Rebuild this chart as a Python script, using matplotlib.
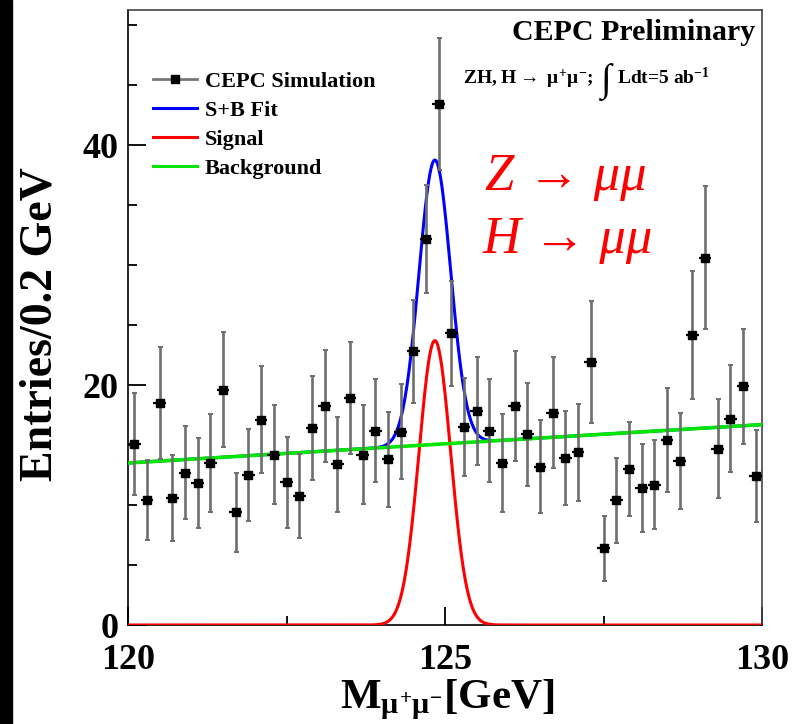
import numpy as np
import matplotlib.pyplot as plt
from matplotlib.lines import Line2D
from matplotlib.patches import Rectangle

plt.rcParams["font.family"] = "Liberation Serif"
plt.rcParams["font.weight"] = "bold"
plt.rcParams["axes.labelweight"] = "bold"
plt.rcParams["mathtext.fontset"] = "custom"
plt.rcParams["mathtext.rm"] = "Liberation Serif:bold"
plt.rcParams["mathtext.it"] = "Liberation Serif:bold"
plt.rcParams["mathtext.bf"] = "Liberation Serif:bold"

# CEPC simulation, 0.2 GeV bins from 120 to 130 GeV
entries = [15.1, 10.4, 18.5, 10.6, 12.7, 11.8, 13.5, 19.6, 9.4, 12.5,
           17.1, 14.2, 11.9, 10.75, 16.4, 18.25, 13.4, 18.9, 14.2, 16.2,
           13.8, 16.1, 22.8, 32.2, 43.4, 24.3, 16.5, 17.8, 16.2, 13.5,
           18.25, 15.9, 13.2, 17.7, 13.9, 14.4, 21.9, 6.4, 10.4, 13.0,
           11.4, 11.7, 15.4, 13.7, 24.2, 30.6, 14.7, 17.2, 19.9, 12.4]
errors = [4.27, 3.33, 4.7, 3.57, 3.9, 3.75, 4.1, 4.8, 3.3, 3.85,
          4.47, 4.1, 3.8, 3.5, 4.33, 4.7, 3.97, 4.68, 4.1, 4.28,
          3.96, 3.96, 4.3, 4.5, 5.5, 4.4, 4.07, 4.5, 4.3, 4.1,
          4.6, 4.3, 3.86, 4.65, 3.9, 4.05, 5.1, 2.7, 3.54, 3.95,
          3.65, 3.72, 4.33, 4.0, 5.33, 5.96, 4.15, 4.49, 4.78, 3.85]
mass = np.linspace(120.1, 129.9, 50)

# fit result: linear background + gaussian signal
bkg_at_120, bkg_at_130 = 13.5, 16.7
sig_mean, sig_sigma, sig_peak = 124.84, 0.25, 23.7

xs = np.linspace(120, 130, 1001)
bkg = bkg_at_120 + (bkg_at_130 - bkg_at_120) * (xs - 120) / 10
sig = sig_peak * np.exp(-0.5 * ((xs - sig_mean) / sig_sigma) ** 2)

W, H = 793, 724


def px(x, y):
    return x / W, 1 - y / H


fig = plt.figure(figsize=(W / 100, H / 100), dpi=100)
fig.patches.append(Rectangle((0, 0), 12 / W, 1, transform=fig.transFigure,
                             color="black", zorder=0))
ax = fig.add_axes([128 / W, 1 - 625 / H, 634 / W, 615 / H])

ax.plot(xs, bkg + sig, color="#0000ff", lw=2.2, zorder=2)
ax.plot(xs, sig, color="#ff0000", lw=2.2, zorder=3)
ax.plot(xs, bkg, color="#00e600", lw=2.6, zorder=4)

_, caps, _ = ax.errorbar(mass, entries, yerr=errors, fmt="none", ecolor="#6e6e6e",
                         elinewidth=1.9, capsize=1.8, capthick=1.4, zorder=5)
for c in caps:
    c.set_color("black")
ax.errorbar(mass, entries, xerr=0.1, fmt="s", color="black", ms=5.5,
            elinewidth=1.6, capsize=0, zorder=6)

ax.set_xlim(120, 130)
ax.set_ylim(0, 51.25)
ax.set_xticks([120, 125, 130])
ax.set_xticks([122.5, 127.5], minor=True)
ax.set_yticks([0, 20, 40])
ax.set_yticks([5, 10, 15, 25, 30, 35, 45, 50], minor=True)
ax.tick_params(which="major", direction="in", length=13, width=1.3, labelsize=26)
ax.tick_params(which="minor", direction="in", length=6.5, width=1.3)
ax.tick_params(axis="y", pad=7)
ax.tick_params(axis="x", pad=14)
for s in ax.spines.values():
    s.set_linewidth(1.2)
ax.spines["top"].set_color("#444444")
ax.spines["right"].set_color("#444444")

ax.set_ylabel("Entries/0.2 GeV", fontsize=33, fontweight="bold")
ax.yaxis.set_label_coords(-0.105, 0.49)
ax.set_xlabel(r"M$_{\mu^{+}\mu^{-}}$[GeV]", fontsize=31, fontweight="bold")
ax.xaxis.set_label_coords(0.503, -0.086)

handles = [Line2D([], [], color="#777777", lw=2, marker="s", mfc="black", mec="black", ms=6),
           Line2D([], [], color="#0000ff", lw=2.2),
           Line2D([], [], color="#ff0000", lw=2.2),
           Line2D([], [], color="#00e600", lw=2.2)]
labels = ["CEPC Simulation", "S+B Fit", "Signal", "Background"]
ax.legend(handles, labels, loc="upper left", bbox_to_anchor=(0.039, 0.9),
          frameon=False, fontsize=16, handlelength=2.0, handletextpad=0.35,
          labelspacing=0.38, borderpad=0, borderaxespad=0)

fig.text(*px(755, 40), "CEPC Preliminary", ha="right", va="baseline", fontsize=21.5)
fig.text(*px(594, 84), r"ZH, H$\rightarrow$ $\mu^{+}\mu^{-}$;", ha="right",
         va="baseline", fontsize=14)
fig.text(*px(606, 91), "\u222b", ha="center", va="baseline", fontsize=28)
fig.text(*px(617, 84), r"Ldt=5 ab$^{-1}$", ha="left", va="baseline", fontsize=14)

fig.text(*px(485, 190), "Z \u2192 \u03bc\u03bc", ha="left", va="baseline",
         fontsize=38, color="red", fontweight="normal", fontstyle="italic")
fig.text(*px(483, 253), "H \u2192 \u03bc\u03bc", ha="left", va="baseline",
         fontsize=38, color="red", fontweight="normal", fontstyle="italic")

fig.savefig("out.png", dpi=100)
